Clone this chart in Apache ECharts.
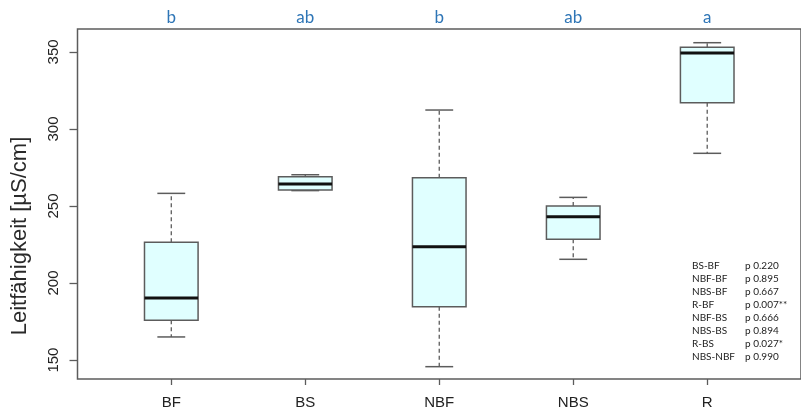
<!DOCTYPE html>
<html>
<head>
<meta charset="utf-8">
<script src="https://cdn.jsdelivr.net/npm/echarts@6/dist/echarts.min.js"></script>
<style>
  html, body { margin: 0; padding: 0; background: #fff; }
  #chart { width: 801px; height: 414px; }
</style>
</head>
<body>
<div id="chart"></div>
<script>
// Leitfähigkeit je Standort (Boxplot)
var categories = ['BF', 'BS', 'NBF', 'NBS', 'R'];
var whiskerLow  = [165.0, 260.0, 145.7, 215.4, 284.2];
var q1          = [175.8, 260.4, 184.6, 228.4, 317.1];
var median      = [190.3, 264.3, 223.6, 243.0, 349.4];
var q3          = [226.4, 269.0, 268.4, 250.0, 353.0];
var whiskerHigh = [258.2, 270.3, 312.3, 255.6, 356.0];
var letters = ['b', 'ab', 'b', 'ab', 'a'];
var yTicks = [150, 200, 250, 300, 350];

var pairs   = ['BS-BF', 'NBF-BF', 'NBS-BF', 'R-BF', 'NBF-BS', 'NBS-BS', 'R-BS', 'NBS-NBF'];
var pvalues = ['p 0.220', 'p 0.895', 'p 0.667', 'p 0.007**', 'p 0.666', 'p 0.894', 'p 0.027*', 'p 0.990'];

var myChart = echarts.init(document.getElementById('chart'));

var boxData = categories.map(function (c, i) {
  return [i + 1, whiskerLow[i], q1[i], median[i], q3[i], whiskerHigh[i]];
});
var catPos = categories.map(function (c, i) { return i + 1; });

var lineCol = '#5c5c5c';

// p-Werte Tabelle rechts unten
var tableItems = [];
pairs.forEach(function (p, i) {
  var y = 267 + i * 13;
  tableItems.push({
    type: 'text', left: 692, top: y - 6,
    style: { text: p, font: '10px Lato', fill: '#222' }
  });
  tableItems.push({
    type: 'text', left: 745, top: y - 6,
    style: { text: pvalues[i], font: '10px Lato', fill: '#222' }
  });
});

option = {
  animation: false,
  grid: {
    left: 77.5,
    top: 29,
    width: 729,
    height: 350,
    show: true,
    borderColor: lineCol,
    borderWidth: 1.5,
    backgroundColor: 'transparent'
  },
  xAxis: [{
    type: 'value',
    min: 0.3,
    max: 5.7,
    position: 'bottom',
    axisLine: { show: false },
    splitLine: { show: false },
    axisTick: {
      show: true, length: 6, customValues: catPos,
      lineStyle: { color: lineCol, width: 1.3 }
    },
    axisLabel: {
      customValues: catPos,
      margin: 16,
      fontSize: 15,
      fontFamily: 'Liberation Sans',
      color: '#222',
      formatter: function (v) { return categories[Math.round(v) - 1]; }
    }
  }, {
    type: 'value',
    min: 0.3,
    max: 5.7,
    position: 'top',
    axisLine: { show: false },
    splitLine: { show: false },
    axisTick: { show: false },
    axisLabel: {
      customValues: catPos,
      margin: 3,
      fontSize: 17,
      fontFamily: 'Lato',
      color: '#2E75B6',
      formatter: function (v) { return letters[Math.round(v) - 1]; }
    }
  }],
  yAxis: {
    type: 'value',
    min: 137.7,
    max: 364.9,
    name: 'Leitfähigkeit [µS/cm]',
    nameLocation: 'middle',
    nameRotate: 90,
    nameGap: 47,
    nameTextStyle: {
      fontSize: 22,
      fontFamily: 'Liberation Sans',
      color: '#2a2a2a',
      padding: [0, 64, 0, 0]
    },
    axisLine: { show: false },
    splitLine: { show: false },
    axisTick: {
      show: true, length: 8, customValues: yTicks,
      lineStyle: { color: lineCol, width: 1.3 }
    },
    axisLabel: {
      customValues: yTicks,
      rotate: 90,
      margin: 16,
      fontSize: 15,
      fontFamily: 'Liberation Sans',
      color: '#222'
    }
  },
  graphic: tableItems,
  series: [{
    type: 'custom',
    name: 'Leitfähigkeit',
    xAxisIndex: 0,
    encode: { x: 0, y: [1, 2, 3, 4, 5] },
    data: boxData,
    renderItem: function (params, api) {
      var x = api.value(0);
      var hw = 0.2, cw = 0.104;
      var pLo = api.coord([x, api.value(1)]);
      var pQ1 = api.coord([x, api.value(2)]);
      var pMd = api.coord([x, api.value(3)]);
      var pQ3 = api.coord([x, api.value(4)]);
      var pHi = api.coord([x, api.value(5)]);
      var xl = api.coord([x - hw, 0])[0];
      var xr = api.coord([x + hw, 0])[0];
      var cl = api.coord([x - cw, 0])[0];
      var cr = api.coord([x + cw, 0])[0];
      var cx = pMd[0];
      var dash = { stroke: lineCol, lineWidth: 1.3, lineDash: [4, 3] };
      var solid = { stroke: lineCol, lineWidth: 1.5 };
      return {
        type: 'group',
        children: [
          { type: 'line', shape: { x1: cx, y1: pQ3[1], x2: cx, y2: pHi[1] }, style: dash },
          { type: 'line', shape: { x1: cx, y1: pQ1[1], x2: cx, y2: pLo[1] }, style: dash },
          { type: 'line', shape: { x1: cl, y1: pHi[1], x2: cr, y2: pHi[1] }, style: solid },
          { type: 'line', shape: { x1: cl, y1: pLo[1], x2: cr, y2: pLo[1] }, style: solid },
          {
            type: 'rect',
            shape: { x: xl, y: pQ3[1], width: xr - xl, height: pQ1[1] - pQ3[1] },
            style: { fill: '#e0ffff', stroke: lineCol, lineWidth: 1.5 }
          },
          { type: 'line', shape: { x1: xl, y1: pMd[1], x2: xr, y2: pMd[1] }, style: { stroke: '#111', lineWidth: 3 } }
        ]
      };
    }
  }]
};
myChart.setOption(option, true);
window.addEventListener('resize', function () { myChart.resize(); });
</script>
</body>
</html>
